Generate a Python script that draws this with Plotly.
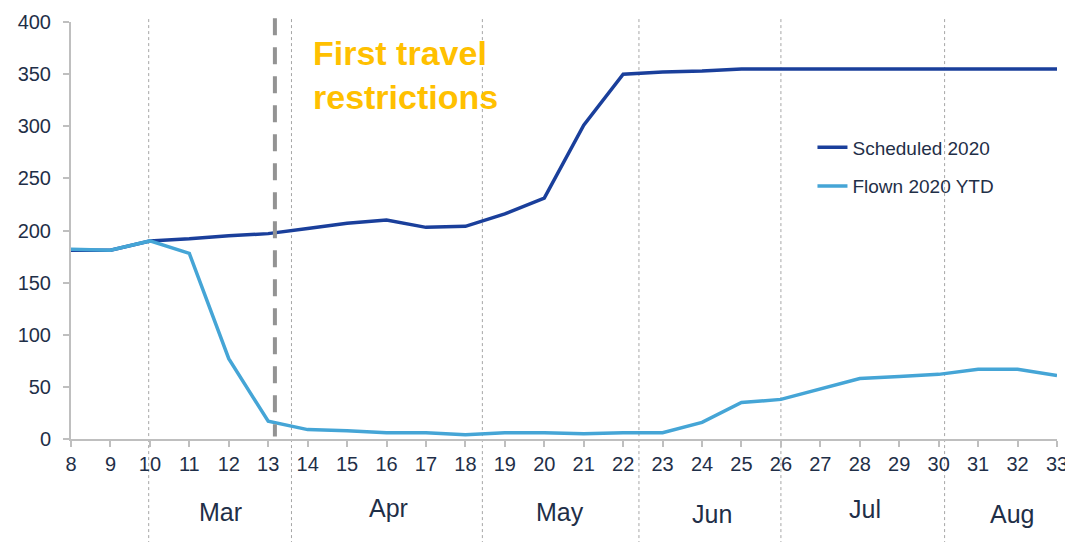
import plotly.graph_objects as go

weeks = list(range(8, 34))
scheduled_2020 = [181, 181, 190, 192, 195, 197, 202, 207, 210, 203, 204, 216, 231, 301,
                  350, 352, 353, 355, 355, 355, 355, 355, 355, 355, 355, 355]
flown_2020_ytd = [182, 181, 190, 178, 77, 17, 9, 8, 6, 6, 4, 6, 6, 5, 6, 6, 16, 35, 38,
                  48, 58, 60, 62, 67, 67, 61]

month_labels = ["Mar", "Apr", "May", "Jun", "Jul", "Aug"]
month_centers = [11.8, 16.05, 20.4, 24.25, 28.13, 31.86]
month_label_y = [-0.174, -0.165, -0.174, -0.18, -0.168, -0.18]
month_boundaries = [9.97, 13.59, 18.43, 22.4, 26.0, 30.15]
restriction_week = 13.17
y_ticks = [0, 50, 100, 150, 200, 250, 300, 350, 400]

TEXT = "#1f2f48"
DARK = "#1a3f9b"
LIGHT = "#45a5d6"
FONT = "Liberation Sans, Arial, sans-serif"

fig = go.Figure()
fig.add_trace(go.Scatter(x=weeks, y=scheduled_2020, mode="lines", name="Scheduled 2020",
                         legendgroup="a", line=dict(color=DARK, width=3.5)))
fig.add_trace(go.Scatter(x=weeks, y=flown_2020_ytd, mode="lines", name="Flown 2020 YTD",
                         legendgroup="b", line=dict(color=LIGHT, width=3.5)))

for b in month_boundaries:
    fig.add_shape(type="line", xref="x", yref="paper", x0=b, x1=b, y0=1.007, y1=-0.25,
                  line=dict(color="#a6a6a6", width=1, dash="3px,3px"), layer="below")

fig.add_shape(type="line", xref="x", yref="paper", x0=restriction_week, x1=restriction_week,
              y0=1.009, y1=0.006, line=dict(color="#939393", width=4, dash="17px,12px"))

for lab, cx, cy in zip(month_labels, month_centers, month_label_y):
    fig.add_annotation(x=cx, y=cy, xref="x", yref="paper", text=lab, showarrow=False,
                       font=dict(size=25, color=TEXT, family=FONT), xanchor="center",
                       yanchor="middle")

fig.add_annotation(x=14.08, y=0.975, xref="x", yref="paper",
                   text="<b>First travel<br>restrictions</b>", showarrow=False,
                   align="left", xanchor="left", yanchor="top",
                   font=dict(size=34, color="#ffc000", family=FONT))

fig.update_layout(
    width=1065, height=534,
    margin=dict(l=63, r=16, t=14, b=103, autoexpand=False),
    paper_bgcolor="white", plot_bgcolor="white",
    font=dict(family=FONT, color=TEXT, size=20),
    showlegend=True,
    legend=dict(x=0.752, y=0.745, xanchor="left", yanchor="top", bgcolor="rgba(0,0,0,0)",
                font=dict(size=19, color=TEXT, family=FONT), tracegroupgap=11),
    xaxis=dict(range=[8, 33], tickmode="array", tickvals=weeks, automargin=False,
               ticktext=[str(w) for w in weeks], showgrid=False, zeroline=False,
               showline=True, linecolor="#bfbfbf", linewidth=2, ticks="outside",
               ticklen=6, tickcolor="#bfbfbf", tickwidth=2, ticklabeloverflow="allow",
               tickfont=dict(size=20, color=TEXT, family=FONT)),
    yaxis=dict(range=[0, 400], tickmode="array", tickvals=y_ticks, showgrid=False,
               automargin=False, ticklabelstandoff=8,
               zeroline=False, showline=True, linecolor="#bfbfbf", linewidth=2,
               ticks="outside", ticklen=6, tickcolor="#bfbfbf", tickwidth=2,
               tickfont=dict(size=20, color=TEXT, family=FONT)),
)

fig.write_html("out.html")
